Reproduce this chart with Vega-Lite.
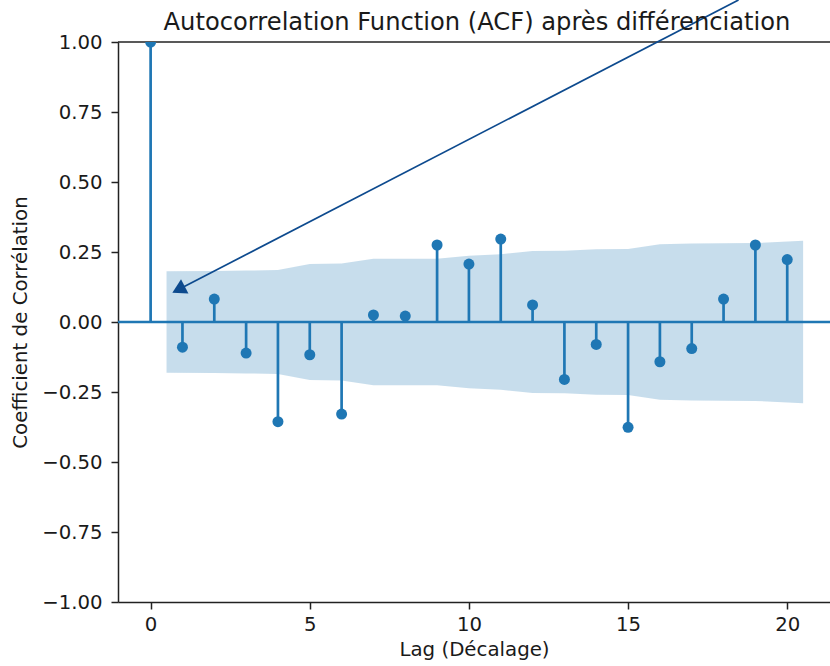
{
  "$schema": "https://vega.github.io/schema/vega-lite/v6.json",
  "autosize": {"type": "none"},
  "padding": {"left": 118, "top": 42, "right": 0, "bottom": 64},
  "width": 712,
  "height": 560,
  "background": "white",
  "title": {
    "text": "Autocorrelation Function (ACF) après différenciation",
    "font": "DejaVu Sans",
    "fontSize": 24.2,
    "fontWeight": "normal",
    "color": "#1a1a1a",
    "anchor": "middle",
    "baseline": "alphabetic",
    "offset": 0,
    "dy": 55,
    "dx": 3
  },
  "datasets": {
    "acf": [
      {"lag": 0, "acf": 1.0},
      {"lag": 1, "acf": -0.090},
      {"lag": 2, "acf": 0.082},
      {"lag": 3, "acf": -0.111},
      {"lag": 4, "acf": -0.356},
      {"lag": 5, "acf": -0.117},
      {"lag": 6, "acf": -0.329},
      {"lag": 7, "acf": 0.025},
      {"lag": 8, "acf": 0.021},
      {"lag": 9, "acf": 0.275},
      {"lag": 10, "acf": 0.207},
      {"lag": 11, "acf": 0.296},
      {"lag": 12, "acf": 0.061},
      {"lag": 13, "acf": -0.205},
      {"lag": 14, "acf": -0.080},
      {"lag": 15, "acf": -0.376},
      {"lag": 16, "acf": -0.142},
      {"lag": 17, "acf": -0.095},
      {"lag": 18, "acf": 0.082},
      {"lag": 19, "acf": 0.275},
      {"lag": 20, "acf": 0.223}
    ],
    "band": [
      {"x": 0.5, "lo": -0.181, "hi": 0.181},
      {"x": 2, "lo": -0.1825, "hi": 0.1825},
      {"x": 3, "lo": -0.1837, "hi": 0.1837},
      {"x": 4, "lo": -0.1858, "hi": 0.1858},
      {"x": 5, "lo": -0.2070, "hi": 0.2070},
      {"x": 6, "lo": -0.2091, "hi": 0.2091},
      {"x": 7, "lo": -0.2255, "hi": 0.2255},
      {"x": 8, "lo": -0.2256, "hi": 0.2256},
      {"x": 9, "lo": -0.2256, "hi": 0.2256},
      {"x": 10, "lo": -0.2363, "hi": 0.2363},
      {"x": 11, "lo": -0.2422, "hi": 0.2422},
      {"x": 12, "lo": -0.2538, "hi": 0.2538},
      {"x": 13, "lo": -0.2543, "hi": 0.2543},
      {"x": 14, "lo": -0.2596, "hi": 0.2596},
      {"x": 15, "lo": -0.2604, "hi": 0.2604},
      {"x": 16, "lo": -0.2777, "hi": 0.2777},
      {"x": 17, "lo": -0.2800, "hi": 0.2800},
      {"x": 18, "lo": -0.2811, "hi": 0.2811},
      {"x": 19, "lo": -0.2819, "hi": 0.2819},
      {"x": 20.5, "lo": -0.2905, "hi": 0.2905}
    ],
    "arrow": [
      {"x0": 18.47, "y0": 1.15, "x1": 0.877, "y1": 0.116}
    ],
    "lines": [
      {"level": 0, "kind": "zero"},
      {"level": 1, "kind": "spine"}
    ]
  },
  "layer": [
    {
      "data": {"name": "band"},
      "mark": {"type": "area", "color": "#1f77b4", "opacity": 0.25},
      "encoding": {
        "x": {
          "field": "x", "type": "quantitative",
          "scale": {"domain": [-1.025, 21.344], "nice": false, "zero": false},
          "axis": {
            "title": "Lag (Décalage)",
            "values": [0, 5, 10, 15, 20],
            "grid": false
          }
        },
        "y": {
          "field": "lo", "type": "quantitative",
          "scale": {"domain": [-1, 1], "nice": false, "zero": false},
          "axis": {
            "title": "Coefficient de Corrélation",
            "values": [-1, -0.75, -0.5, -0.25, 0, 0.25, 0.5, 0.75, 1],
            "format": ".2f",
            "grid": false
          }
        },
        "y2": {"field": "hi"}
      }
    },
    {
      "data": {"name": "lines"},
      "transform": [{"filter": "datum.kind === 'zero'"}],
      "mark": {"type": "rule", "color": "#1f77b4", "strokeWidth": 2.7},
      "encoding": {"y": {"field": "level", "type": "quantitative"}}
    },
    {
      "data": {"name": "lines"},
      "transform": [{"filter": "datum.kind === 'spine'"}],
      "mark": {"type": "rule", "color": "#222222", "strokeWidth": 1.5},
      "encoding": {"y": {"field": "level", "type": "quantitative"}}
    },
    {
      "data": {"name": "acf"},
      "mark": {"type": "rule", "color": "#1f77b4", "strokeWidth": 2.7},
      "encoding": {
        "x": {"field": "lag", "type": "quantitative"},
        "y": {"field": "acf", "type": "quantitative"},
        "y2": {"datum": 0}
      }
    },
    {
      "data": {"name": "acf"},
      "mark": {"type": "point", "filled": true, "color": "#1f77b4", "opacity": 1, "size": 121, "clip": true},
      "encoding": {
        "x": {"field": "lag", "type": "quantitative"},
        "y": {"field": "acf", "type": "quantitative"}
      }
    },
    {
      "data": {"name": "arrow"},
      "mark": {"type": "rule", "color": "#0d4a8e", "strokeWidth": 1.7},
      "encoding": {
        "x": {"field": "x0", "type": "quantitative"},
        "y": {"field": "y0", "type": "quantitative"},
        "x2": {"field": "x1"},
        "y2": {"field": "y1"}
      }
    },
    {
      "data": {"name": "arrow"},
      "mark": {"type": "point", "shape": "triangle-up", "filled": true, "color": "#0d4a8e", "opacity": 1, "size": 260, "angle": 242.6},
      "encoding": {
        "x": {"field": "x1", "type": "quantitative"},
        "y": {"field": "y1", "type": "quantitative"}
      }
    }
  ],
  "config": {
    "view": {"stroke": null},
    "axis": {
      "labelFont": "DejaVu Sans",
      "labelFontSize": 19.7,
      "labelColor": "#1a1a1a",
      "titleFont": "DejaVu Sans",
      "titleFontSize": 19.8,
      "titleFontWeight": "normal",
      "titleColor": "#1a1a1a",
      "domainColor": "#222222",
      "domainWidth": 1.5,
      "tickColor": "#222222",
      "tickWidth": 1.5,
      "tickSize": 7,
      "labelPadding": 5
    },
    "axisX": {"titlePadding": 6},
    "axisY": {"titlePadding": 11, "labelPadding": 9}
  }
}
